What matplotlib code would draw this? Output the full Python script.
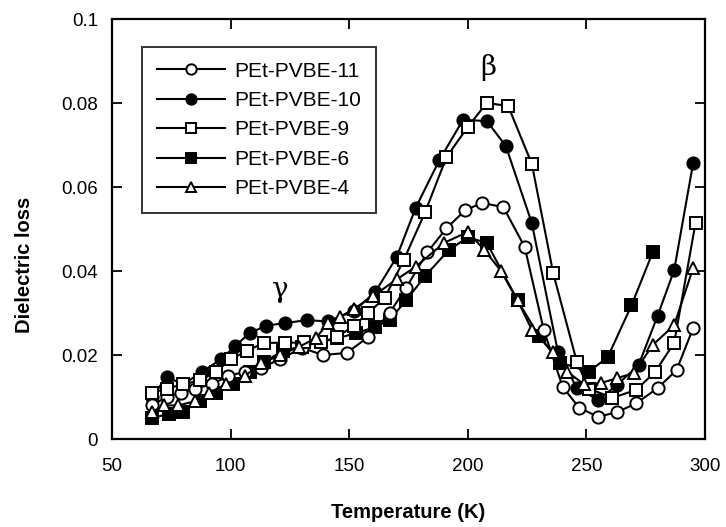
import matplotlib
matplotlib.use("Agg")
import matplotlib.pyplot as plt
from matplotlib.ticker import FixedLocator, FuncFormatter

plt.rcParams['font.family'] = ['Liberation Sans', 'DejaVu Sans']

# ---- data ----
T11 = [67, 73, 79, 85, 92, 99, 106, 113, 121, 130, 139, 149, 158, 167, 174, 183, 191, 199, 206, 215, 224, 232, 240, 247, 255, 263, 271, 280, 288, 295]
v11 = [0.008, 0.010, 0.011, 0.012, 0.013, 0.015, 0.016, 0.017, 0.019, 0.0217, 0.020, 0.0205, 0.0243, 0.030, 0.036, 0.0445, 0.0502, 0.0545, 0.0562, 0.0552, 0.0457, 0.026, 0.0124, 0.0074, 0.0053, 0.0064, 0.0085, 0.0121, 0.0164, 0.0264]

T10 = [67, 73, 80, 88, 96, 102, 108, 115, 123, 132, 141, 152, 161, 170, 178, 188, 198, 208, 216, 227, 238, 246, 255, 263, 272, 280, 287, 295]
v10 = [0.010, 0.0148, 0.013, 0.016, 0.019, 0.0222, 0.0252, 0.027, 0.0276, 0.0283, 0.028, 0.0305, 0.035, 0.0433, 0.055, 0.0664, 0.076, 0.0757, 0.0698, 0.0514, 0.0207, 0.0121, 0.0093, 0.0129, 0.0176, 0.0293, 0.0402, 0.0657]

T9 = [67, 73, 80, 87, 94, 100, 107, 114, 123, 131, 138, 145, 152, 158, 165, 173, 182, 191, 200, 208, 217, 227, 236, 246, 251, 261, 271, 279, 287, 296]
v9 = [0.011, 0.012, 0.013, 0.014, 0.016, 0.019, 0.021, 0.0229, 0.0229, 0.023, 0.023, 0.0243, 0.027, 0.030, 0.0336, 0.0426, 0.054, 0.0671, 0.0743, 0.080, 0.0793, 0.0655, 0.0395, 0.0183, 0.012, 0.0098, 0.0117, 0.016, 0.0229, 0.0514]

T6 = [67, 74, 80, 87, 94, 101, 108, 114, 122, 130, 138, 145, 153, 161, 167, 174, 182, 192, 200, 208, 221, 230, 239, 251, 259, 269, 278]
v6 = [0.005, 0.006, 0.0065, 0.009, 0.011, 0.013, 0.016, 0.0183, 0.021, 0.022, 0.0231, 0.024, 0.0252, 0.0267, 0.0283, 0.033, 0.0388, 0.045, 0.048, 0.0467, 0.0330, 0.0245, 0.0182, 0.016, 0.0195, 0.0318, 0.0445]

T4 = [67, 72, 78, 85, 91, 98, 106, 113, 121, 129, 136, 141, 146, 152, 160, 170, 178, 190, 200, 207, 214, 221, 227, 236, 242, 249, 256, 263, 270, 278, 287, 295]
v4 = [0.0065, 0.008, 0.008, 0.009, 0.011, 0.013, 0.015, 0.018, 0.020, 0.022, 0.024, 0.0276, 0.029, 0.031, 0.034, 0.038, 0.041, 0.0467, 0.0493, 0.045, 0.040, 0.033, 0.026, 0.0207, 0.016, 0.013, 0.0133, 0.0145, 0.0157, 0.0224, 0.0271, 0.0407]

labels = ['PEt-PVBE-11', 'PEt-PVBE-10', 'PEt-PVBE-9', 'PEt-PVBE-6', 'PEt-PVBE-4']
xticks = [50, 100, 150, 200, 250, 300]
yticks = [0, 0.02, 0.04, 0.06, 0.08, 0.1]
ytick_labels = ['0', '0.02', '0.04', '0.06', '0.08', '0.1']

# ---- figure ----
fig = plt.figure(figsize=(7.26, 5.27), dpi=100)
ax = fig.add_axes([112/726, 1-439/527, (705-112)/726, (439-19)/527])

series = [
    (T11, v11, 'o', 'white'),
    (T10, v10, 'o', 'black'),
    (T9, v9, 's', 'white'),
    (T6, v6, 's', 'black'),
    (T4, v4, '^', 'white'),
]
for (T, v, m, fc), lab in zip(series, labels):
    ax.plot(T, v, color='black', lw=1.5, marker=m, ms=8.8, mfc=fc, mec='black',
            mew=1.4, label=lab, zorder=3 if fc == 'black' else 4)

ax.set_xlim(50, 300)
ax.set_ylim(0, 0.1)
ax.xaxis.set_major_locator(FixedLocator(xticks))
ax.yaxis.set_major_locator(FixedLocator(yticks))
ax.yaxis.set_major_formatter(FuncFormatter(lambda v, p: ytick_labels[yticks.index(round(v, 2))] if round(v, 2) in yticks else ''))
ax.tick_params(direction='in', length=7, width=1.3, top=True, right=True,
               labelsize=13.5)
ax.tick_params(axis='x', pad=14)
ax.tick_params(axis='y', pad=10)
for s in ax.spines.values():
    s.set_linewidth(1.6)

fig.text(408/726, 1-512/527, 'Temperature (K)', ha='center', va='center',
         fontsize=14.5, fontweight='bold')
fig.text(25/726, 1-265/527, 'Dielectric loss', ha='center', va='center',
         rotation=90, fontsize=14.5, fontweight='bold')

ax.text(208.5, 0.0885, 'β', ha='center', va='center', fontsize=20,
        family=['DejaVu Serif'])
ax.text(121, 0.0355, 'γ', ha='center', va='center', fontsize=20,
        family=['DejaVu Serif'])

leg = ax.legend(loc='upper left', bbox_to_anchor=(142/726, 1-47/527),
                bbox_transform=fig.transFigure, borderaxespad=0,
                frameon=True, fancybox=False, edgecolor='black',
                fontsize=15, handlelength=3.3, handletextpad=0.45,
                labelspacing=0.5, borderpad=0.7, markerscale=0.85)
leg.get_frame().set_linewidth(1.4)

fig.savefig('out.png', dpi=100)
